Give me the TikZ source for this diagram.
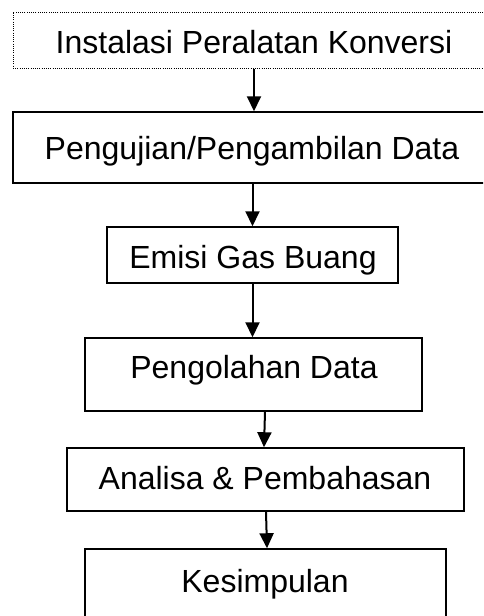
\documentclass[tikz,border=0pt]{standalone}
\usepackage{fontspec}
\setmainfont{Liberation Sans}
\usetikzlibrary{arrows.meta}
\begin{document}
\begin{tikzpicture}[x=1pt,y=-1pt,
  box/.style={draw=black,line width=1.5pt,rectangle,inner sep=0pt},
  dotbox/.style={draw=black,line width=1pt,dash pattern=on 1pt off 1.2pt,rectangle,inner sep=0pt},
  lbl/.style={anchor=base,inner sep=0pt,font=\fontsize{32}{38}\selectfont},
  arr/.style={line width=2pt,-{Triangle[width=14pt,length=15pt]}}]
\useasboundingbox (0,0) rectangle (483,616);
\clip (0,0) rectangle (483,616);
\fill[white] (0,0) rectangle (483,616);
% boxes
\node[dotbox,minimum width=482pt,minimum height=56pt] (b1) at (254,40) {};
\node[box,minimum width=478pt,minimum height=71pt] (b2) at (252,147.5) {};
\node[box,minimum width=291pt,minimum height=56pt] (b3) at (252.5,255) {};
\node[box,minimum width=337pt,minimum height=73pt] (b4) at (253.5,374.5) {};
\node[box,minimum width=397pt,minimum height=63pt] (b5) at (265.5,479.5) {};
\node[box,minimum width=361pt,minimum height=91pt] (b6) at (265.5,594.5) {};
% labels
\node[lbl] (t1) at (254,53) {Instalasi Peralatan Konversi};
\node[lbl] (t2) at (252,159) {Pengujian/Pengambilan Data};
\node[lbl] (t3) at (253,268) {Emisi Gas Buang};
\node[lbl] (t4) at (254,378) {Pengolahan Data};
\node[lbl] (t5) at (265,489) {Analisa \& Pembahasan};
\node[lbl] (t6) at (265,592) {Kesimpulan};
% arrows
\draw[arr] (b1.south) -- (b1.south |- b2.north);
\draw[arr] (b3.north |- b2.south) -- (b3.north);
\draw[arr] (b3.south) -- (b3.south |- b4.north);
\draw[arr] ([xshift=11.5pt]b4.south) -- ([xshift=-1.5pt]b5.north);
\draw[arr] ([xshift=0.5pt]b5.south) -- ([xshift=1.5pt]b6.north);
\end{tikzpicture}
\end{document}
